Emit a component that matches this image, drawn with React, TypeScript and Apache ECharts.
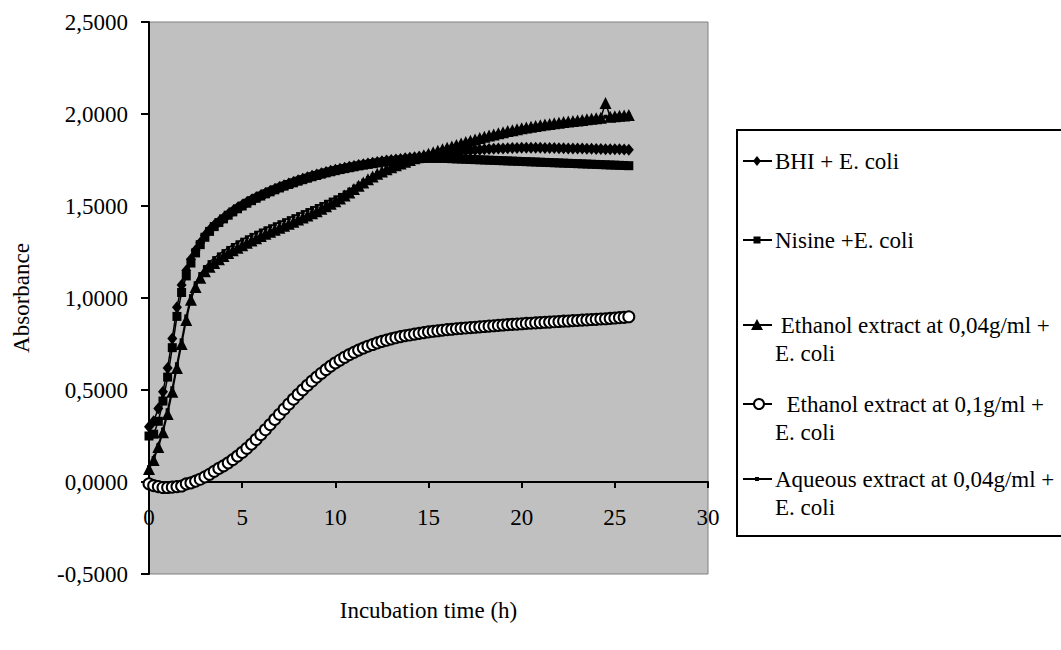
import React, { useEffect, useRef } from "react";
import * as echarts from "echarts";

// Incubation time (h), every 15 min
const time = [
  0, 0.25, 0.5, 0.75, 1, 1.25, 1.5, 1.75,
  2, 2.25, 2.5, 2.75, 3, 3.25, 3.5, 3.75,
  4, 4.25, 4.5, 4.75, 5, 5.25, 5.5, 5.75,
  6, 6.25, 6.5, 6.75, 7, 7.25, 7.5, 7.75,
  8, 8.25, 8.5, 8.75, 9, 9.25, 9.5, 9.75,
  10, 10.25, 10.5, 10.75, 11, 11.25, 11.5, 11.75,
  12, 12.25, 12.5, 12.75, 13, 13.25, 13.5, 13.75,
  14, 14.25, 14.5, 14.75, 15, 15.25, 15.5, 15.75,
  16, 16.25, 16.5, 16.75, 17, 17.25, 17.5, 17.75,
  18, 18.25, 18.5, 18.75, 19, 19.25, 19.5, 19.75,
  20, 20.25, 20.5, 20.75, 21, 21.25, 21.5, 21.75,
  22, 22.25, 22.5, 22.75, 23, 23.25, 23.5, 23.75,
  24, 24.25, 24.5, 24.75, 25, 25.25, 25.5, 25.75,
];

const bhi = [
  0.300, 0.330, 0.400, 0.490, 0.620, 0.780, 0.950, 1.070,
  1.150, 1.210, 1.260, 1.300, 1.340, 1.370, 1.395, 1.415,
  1.435, 1.455, 1.473, 1.490, 1.505, 1.520, 1.534, 1.547,
  1.559, 1.571, 1.582, 1.593, 1.603, 1.613, 1.622, 1.631,
  1.640, 1.648, 1.656, 1.664, 1.671, 1.678, 1.685, 1.691,
  1.697, 1.703, 1.708, 1.713, 1.718, 1.723, 1.727, 1.731,
  1.735, 1.739, 1.743, 1.747, 1.750, 1.753, 1.756, 1.759,
  1.762, 1.765, 1.768, 1.771, 1.774, 1.777, 1.780, 1.783,
  1.789, 1.792, 1.795, 1.798, 1.800, 1.802, 1.804, 1.806,
  1.808, 1.810, 1.811, 1.812, 1.813, 1.814, 1.815, 1.815,
  1.816, 1.816, 1.816, 1.816, 1.816, 1.815, 1.815, 1.815,
  1.814, 1.814, 1.813, 1.813, 1.812, 1.812, 1.811, 1.811,
  1.810, 1.810, 1.809, 1.809, 1.808, 1.808, 1.807, 1.806,
];

const nisine = [
  0.250, 0.260, 0.330, 0.440, 0.570, 0.730, 0.900, 1.030,
  1.120, 1.190, 1.245, 1.290, 1.330, 1.362, 1.388, 1.410,
  1.430, 1.450, 1.468, 1.485, 1.500, 1.515, 1.529, 1.542,
  1.554, 1.566, 1.577, 1.588, 1.598, 1.608, 1.617, 1.626,
  1.635, 1.643, 1.651, 1.659, 1.666, 1.673, 1.680, 1.686,
  1.692, 1.698, 1.703, 1.708, 1.713, 1.718, 1.722, 1.726,
  1.730, 1.734, 1.738, 1.741, 1.744, 1.747, 1.750, 1.752,
  1.754, 1.756, 1.757, 1.758, 1.759, 1.759, 1.759, 1.759,
  1.758, 1.757, 1.756, 1.755, 1.754, 1.753, 1.752, 1.751,
  1.750, 1.749, 1.748, 1.747, 1.746, 1.745, 1.744, 1.743,
  1.742, 1.741, 1.740, 1.739, 1.738, 1.737, 1.736, 1.735,
  1.734, 1.733, 1.732, 1.731, 1.730, 1.729, 1.728, 1.727,
  1.726, 1.725, 1.724, 1.723, 1.722, 1.721, 1.720, 1.719,
];

const ethanol004 = [
  0.070, 0.120, 0.190, 0.270, 0.370, 0.490, 0.620, 0.750,
  0.880, 0.990, 1.060, 1.110, 1.145, 1.170, 1.190, 1.210,
  1.228, 1.244, 1.259, 1.273, 1.287, 1.300, 1.313, 1.325,
  1.337, 1.349, 1.360, 1.371, 1.382, 1.393, 1.404, 1.415,
  1.426, 1.437, 1.448, 1.460, 1.472, 1.485, 1.498, 1.512,
  1.526, 1.541, 1.557, 1.574, 1.592, 1.610, 1.628, 1.645,
  1.661, 1.675, 1.688, 1.700, 1.711, 1.721, 1.731, 1.741,
  1.750, 1.759, 1.768, 1.776, 1.784, 1.792, 1.800, 1.808,
  1.816, 1.824, 1.832, 1.840, 1.848, 1.855, 1.862, 1.869,
  1.876, 1.883, 1.889, 1.895, 1.901, 1.907, 1.912, 1.917,
  1.922, 1.927, 1.931, 1.935, 1.939, 1.943, 1.946, 1.950,
  1.953, 1.956, 1.959, 1.962, 1.965, 1.968, 1.971, 1.974,
  1.977, 1.980, 2.060, 1.985, 1.988, 1.990, 1.992, 1.994,
];

const ethanol01 = [
  -0.010, -0.020, -0.025, -0.030, -0.030, -0.028, -0.025, -0.022,
  -0.010, -0.005, 0.005, 0.015, 0.028, 0.042, 0.058, 0.074,
  0.088, 0.104, 0.122, 0.141, 0.161, 0.183, 0.206, 0.231,
  0.257, 0.284, 0.312, 0.340, 0.368, 0.396, 0.423, 0.450,
  0.476, 0.501, 0.525, 0.548, 0.570, 0.591, 0.611, 0.630,
  0.647, 0.663, 0.678, 0.692, 0.705, 0.717, 0.728, 0.738,
  0.747, 0.756, 0.764, 0.771, 0.778, 0.784, 0.790, 0.795,
  0.799, 0.804, 0.808, 0.812, 0.816, 0.819, 0.822, 0.825,
  0.828, 0.830, 0.833, 0.835, 0.837, 0.839, 0.841, 0.843,
  0.845, 0.847, 0.849, 0.851, 0.853, 0.855, 0.857, 0.858,
  0.860, 0.862, 0.863, 0.865, 0.866, 0.868, 0.869, 0.871,
  0.872, 0.874, 0.875, 0.877, 0.878, 0.880, 0.881, 0.883,
  0.884, 0.886, 0.887, 0.889, 0.891, 0.893, 0.895, 0.898,
];

const aqueous004 = [
  0.080, 0.130, 0.200, 0.285, 0.390, 0.510, 0.640, 0.770,
  0.900, 1.010, 1.080, 1.130, 1.168, 1.195, 1.217, 1.237,
  1.255, 1.272, 1.288, 1.303, 1.317, 1.330, 1.343, 1.355,
  1.367, 1.379, 1.390, 1.401, 1.412, 1.423, 1.434, 1.445,
  1.456, 1.467, 1.478, 1.489, 1.500, 1.511, 1.523, 1.535,
  1.547, 1.560, 1.574, 1.589, 1.605, 1.621, 1.637, 1.652,
  1.666, 1.679, 1.691, 1.703, 1.714, 1.724, 1.734, 1.743,
  1.752, 1.761, 1.770, 1.778, 1.786, 1.794, 1.802, 1.810,
  1.818, 1.826, 1.834, 1.842, 1.850, 1.857, 1.864, 1.871,
  1.878, 1.885, 1.891, 1.897, 1.903, 1.909, 1.914, 1.919,
  1.924, 1.929, 1.933, 1.937, 1.941, 1.945, 1.948, 1.952,
  1.955, 1.958, 1.961, 1.964, 1.967, 1.970, 1.973, 1.976,
  1.979, 1.982, 1.985, 1.988, 1.991, 1.993, 1.995, 1.997,
];

const seriesNames = [
  "BHI + E. coli",
  "Nisine +E. coli",
  "Ethanol extract at 0,04g/ml + E. coli",
  "Ethanol extract at 0,1g/ml + E. coli",
  "Aqueous extract at 0,04g/ml + E. coli",
];

const legendLines = [
  ["BHI + E. coli"],
  ["Nisine +E. coli"],
  [" Ethanol extract at 0,04g/ml +", "E. coli"],
  ["  Ethanol extract at 0,1g/ml +", "E. coli"],
  ["Aqueous extract at 0,04g/ml +", "E. coli"],
];

const xTitle = "Incubation time (h)";
const yTitle = "Absorbance";

const FONT = "'Liberation Serif', 'Times New Roman', serif";

function fmtY(v: number) {
  return v.toFixed(4).replace(".", ",");
}

export default function App() {
  const ref = useRef<HTMLDivElement>(null);

  useEffect(() => {
    document.body.style.margin = "0";
    if (!ref.current) return;
    const chart = echarts.init(ref.current, undefined, { renderer: "svg" });

    const pair = (vals: number[]) => time.map((t, i) => [t, vals[i]]);

    const base = {
      type: "line",
      lineStyle: { color: "#000", width: 1.5 },
      itemStyle: { color: "#000" },
      showSymbol: true,
      silent: true,
    };

    // legend drawing (graphic)
    const lx0 = 743;
    const lx1 = 772;
    const lmx = 757;
    const rowY = [161, 240, 325, 404, 479];
    const lineGap = 28;
    const textX = 775;
    const g: any[] = [];
    g.push({
      type: "rect",
      shape: { x: 737, y: 130, width: 400, height: 406 },
      style: { fill: "#fff", stroke: "#000", lineWidth: 2 },
      z: 10,
    });
    rowY.forEach((y, i) => {
      g.push({
        type: "line",
        shape: { x1: lx0, y1: y, x2: lx1, y2: y },
        style: { stroke: "#000", lineWidth: 2 },
        z: 11,
      });
      if (i === 0) {
        g.push({
          type: "polygon",
          shape: { points: [[lmx, y - 5], [lmx + 4, y], [lmx, y + 5], [lmx - 4, y]] },
          style: { fill: "#000" },
          z: 12,
        });
      } else if (i === 1) {
        g.push({
          type: "rect",
          shape: { x: lmx - 3.5, y: y - 3.5, width: 7, height: 7 },
          style: { fill: "#000" },
          z: 12,
        });
      } else if (i === 2) {
        g.push({
          type: "polygon",
          shape: { points: [[lmx, y - 6], [lmx + 6, y + 5], [lmx - 6, y + 5]] },
          style: { fill: "#000" },
          z: 12,
        });
      } else if (i === 3) {
        g.push({
          type: "circle",
          shape: { cx: lmx + 2, cy: y, r: 5 },
          style: { fill: "#fff", stroke: "#000", lineWidth: 2 },
          z: 12,
        });
      } else {
        g.push({
          type: "rect",
          shape: { x: lmx - 2, y: y - 2, width: 4, height: 4 },
          style: { fill: "#000" },
          z: 12,
        });
      }
      legendLines[i].forEach((txt, k) => {
        g.push({
          type: "text",
          x: textX,
          y: y + k * lineGap,
          style: {
            text: txt,
            fill: "#000",
            font: `23px ${FONT}`,
            verticalAlign: "middle",
            align: "left",
          },
          z: 12,
        });
      });
    });

    chart.setOption({
      animation: false,
      textStyle: { fontFamily: FONT, color: "#000" },
      grid: {
        left: 149,
        top: 22,
        width: 559,
        height: 552,
        show: true,
        backgroundColor: "#C0C0C0",
        borderColor: "#808080",
        borderWidth: 1,
        containLabel: false,
        outerBoundsMode: "none",
      },
      xAxis: {
        type: "value",
        min: 0,
        max: 30,
        interval: 5,
        position: "bottom",
        offset: -92,
        name: xTitle,
        nameLocation: "middle",
        nameGap: 117,
        nameTextStyle: { fontSize: 23, fontFamily: FONT, color: "#000" },
        axisLine: { show: true, onZero: false, lineStyle: { color: "#000", width: 2 } },
        axisTick: { show: true, inside: false, length: 6, lineStyle: { color: "#000", width: 2 } },
        axisLabel: { fontSize: 23, fontFamily: FONT, color: "#000", margin: 24 },
        splitLine: { show: false },
      },
      yAxis: {
        type: "value",
        min: -0.5,
        max: 2.5,
        interval: 0.5,
        name: yTitle,
        nameLocation: "middle",
        nameGap: 116,
        nameRotate: 90,
        nameTextStyle: { fontSize: 23, fontFamily: FONT, color: "#000" },
        axisLine: { show: true, onZero: false, lineStyle: { color: "#000", width: 2 } },
        axisTick: { show: true, inside: false, length: 8, lineStyle: { color: "#000", width: 2 } },
        axisLabel: {
          fontSize: 23,
          fontFamily: FONT,
          color: "#000",
          margin: 21,
          formatter: (v: number) => fmtY(v),
        },
        splitLine: { show: false },
      },
      graphic: g,
      series: [
        {
          ...base,
          name: seriesNames[4],
          data: pair(aqueous004),
          symbol: "rect",
          symbolSize: 4,
          z: 2,
        },
        {
          ...base,
          name: seriesNames[2],
          data: pair(ethanol004),
          symbol: "triangle",
          symbolSize: 12,
          z: 3,
        },
        {
          ...base,
          name: seriesNames[1],
          data: pair(nisine),
          symbol: "rect",
          symbolSize: 9,
          z: 4,
        },
        {
          ...base,
          name: seriesNames[0],
          data: pair(bhi),
          symbol: "diamond",
          symbolSize: [10, 12],
          z: 5,
        },
        {
          ...base,
          name: seriesNames[3],
          data: pair(ethanol01),
          symbol: "circle",
          symbolSize: 11,
          itemStyle: { color: "#fff", borderColor: "#000", borderWidth: 2 },
          z: 6,
        },
      ],
    });

    return () => chart.dispose();
  }, []);

  return <div ref={ref} style={{ width: 1061, height: 650 }} />;
}
